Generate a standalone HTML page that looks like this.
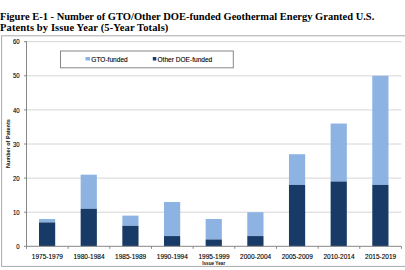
<!DOCTYPE html>
<html><head><meta charset="utf-8"><style>
html,body{margin:0;padding:0;background:#fff;width:405px;height:270px;overflow:hidden}
.t{position:absolute;left:0;top:10.6px;font-family:"Liberation Serif",serif;font-weight:bold;font-size:10.5px;line-height:11.5px;color:#000;white-space:nowrap}
svg{position:absolute;left:0;top:0}
.ax{font-family:"Liberation Sans",sans-serif;font-size:7px;fill:#000;stroke:#000;stroke-width:0.12px}
.cat{font-family:"Liberation Sans",sans-serif;font-size:7px;fill:#000;stroke:#000;stroke-width:0.12px}
.lg{font-family:"Liberation Sans",sans-serif;font-size:7px;fill:#000;stroke:#000;stroke-width:0.12px}
.ttl{font-family:"Liberation Sans",sans-serif;font-size:4.6px;font-weight:bold;fill:#111}
</style></head><body>
<div class="t">Figure E-1 - Number of GTO/Other DOE-funded Geothermal Energy Granted U.S.<br><span style="letter-spacing:0.12px">Patents by Issue Year (5-Year Totals)</span></div>
<svg width="405" height="270" viewBox="0 0 405 270" xmlns="http://www.w3.org/2000/svg">
<rect x="1.6" y="35.8" width="410" height="230.6" fill="none" stroke="#ababab" stroke-width="1"/>
<line x1="26.5" y1="212.20" x2="401.5" y2="212.20" stroke="#d6d6d6" stroke-width="1"/>
<line x1="26.5" y1="178.10" x2="401.5" y2="178.10" stroke="#d6d6d6" stroke-width="1"/>
<line x1="26.5" y1="144.00" x2="401.5" y2="144.00" stroke="#d6d6d6" stroke-width="1"/>
<line x1="26.5" y1="109.90" x2="401.5" y2="109.90" stroke="#d6d6d6" stroke-width="1"/>
<line x1="26.5" y1="75.80" x2="401.5" y2="75.80" stroke="#d6d6d6" stroke-width="1"/>
<line x1="26.5" y1="41.70" x2="401.5" y2="41.70" stroke="#d6d6d6" stroke-width="1"/>
<rect x="39.00" y="219.02" width="16.20" height="3.41" fill="#8db3e2"/>
<rect x="39.00" y="222.43" width="16.20" height="23.87" fill="#183a66"/>
<rect x="80.66" y="174.69" width="16.20" height="34.10" fill="#8db3e2"/>
<rect x="80.66" y="208.79" width="16.20" height="37.51" fill="#183a66"/>
<rect x="122.32" y="215.61" width="16.20" height="10.23" fill="#8db3e2"/>
<rect x="122.32" y="225.84" width="16.20" height="20.46" fill="#183a66"/>
<rect x="163.98" y="201.97" width="16.20" height="34.10" fill="#8db3e2"/>
<rect x="163.98" y="236.07" width="16.20" height="10.23" fill="#183a66"/>
<rect x="205.64" y="219.02" width="16.20" height="20.46" fill="#8db3e2"/>
<rect x="205.64" y="239.48" width="16.20" height="6.82" fill="#183a66"/>
<rect x="247.30" y="212.20" width="16.20" height="23.87" fill="#8db3e2"/>
<rect x="247.30" y="236.07" width="16.20" height="10.23" fill="#183a66"/>
<rect x="288.96" y="154.23" width="16.20" height="30.69" fill="#8db3e2"/>
<rect x="288.96" y="184.92" width="16.20" height="61.38" fill="#183a66"/>
<rect x="330.62" y="123.54" width="16.20" height="57.97" fill="#8db3e2"/>
<rect x="330.62" y="181.51" width="16.20" height="64.79" fill="#183a66"/>
<rect x="372.28" y="75.80" width="16.20" height="109.12" fill="#8db3e2"/>
<rect x="372.28" y="184.92" width="16.20" height="61.38" fill="#183a66"/>
<line x1="26.5" y1="41" x2="26.5" y2="246.3" stroke="#868686" stroke-width="1"/>
<line x1="26.5" y1="246.3" x2="401.5" y2="246.3" stroke="#868686" stroke-width="1"/>
<line x1="24" y1="246.30" x2="26.5" y2="246.30" stroke="#868686" stroke-width="1"/>
<text transform="translate(19.6,248.90) scale(0.85,1)" text-anchor="end" class="ax">0</text>
<line x1="24" y1="212.20" x2="26.5" y2="212.20" stroke="#868686" stroke-width="1"/>
<text transform="translate(19.6,214.80) scale(0.85,1)" text-anchor="end" class="ax">10</text>
<line x1="24" y1="178.10" x2="26.5" y2="178.10" stroke="#868686" stroke-width="1"/>
<text transform="translate(19.6,180.70) scale(0.85,1)" text-anchor="end" class="ax">20</text>
<line x1="24" y1="144.00" x2="26.5" y2="144.00" stroke="#868686" stroke-width="1"/>
<text transform="translate(19.6,146.60) scale(0.85,1)" text-anchor="end" class="ax">30</text>
<line x1="24" y1="109.90" x2="26.5" y2="109.90" stroke="#868686" stroke-width="1"/>
<text transform="translate(19.6,112.50) scale(0.85,1)" text-anchor="end" class="ax">40</text>
<line x1="24" y1="75.80" x2="26.5" y2="75.80" stroke="#868686" stroke-width="1"/>
<text transform="translate(19.6,78.40) scale(0.85,1)" text-anchor="end" class="ax">50</text>
<line x1="24" y1="41.70" x2="26.5" y2="41.70" stroke="#868686" stroke-width="1"/>
<text transform="translate(19.6,44.30) scale(0.85,1)" text-anchor="end" class="ax">60</text>
<line x1="26.50" y1="246.3" x2="26.50" y2="248.8" stroke="#868686" stroke-width="1"/>
<line x1="68.16" y1="246.3" x2="68.16" y2="248.8" stroke="#868686" stroke-width="1"/>
<line x1="109.82" y1="246.3" x2="109.82" y2="248.8" stroke="#868686" stroke-width="1"/>
<line x1="151.48" y1="246.3" x2="151.48" y2="248.8" stroke="#868686" stroke-width="1"/>
<line x1="193.14" y1="246.3" x2="193.14" y2="248.8" stroke="#868686" stroke-width="1"/>
<line x1="234.80" y1="246.3" x2="234.80" y2="248.8" stroke="#868686" stroke-width="1"/>
<line x1="276.46" y1="246.3" x2="276.46" y2="248.8" stroke="#868686" stroke-width="1"/>
<line x1="318.12" y1="246.3" x2="318.12" y2="248.8" stroke="#868686" stroke-width="1"/>
<line x1="359.78" y1="246.3" x2="359.78" y2="248.8" stroke="#868686" stroke-width="1"/>
<line x1="401.44" y1="246.3" x2="401.44" y2="248.8" stroke="#868686" stroke-width="1"/>
<text transform="translate(47.33,259) scale(0.93,1)" text-anchor="middle" class="cat">1975-1979</text>
<text transform="translate(88.99,259) scale(0.93,1)" text-anchor="middle" class="cat">1980-1984</text>
<text transform="translate(130.65,259) scale(0.93,1)" text-anchor="middle" class="cat">1985-1989</text>
<text transform="translate(172.31,259) scale(0.93,1)" text-anchor="middle" class="cat">1990-1994</text>
<text transform="translate(213.97,259) scale(0.93,1)" text-anchor="middle" class="cat">1995-1999</text>
<text transform="translate(255.63,259) scale(0.93,1)" text-anchor="middle" class="cat">2000-2004</text>
<text transform="translate(297.29,259) scale(0.93,1)" text-anchor="middle" class="cat">2005-2009</text>
<text transform="translate(338.95,259) scale(0.93,1)" text-anchor="middle" class="cat">2010-2014</text>
<text transform="translate(380.61,259) scale(0.93,1)" text-anchor="middle" class="cat">2015-2019</text>
<rect x="60.5" y="51" width="172.8" height="16.8" fill="#fff" stroke="#868686" stroke-width="1"/>
<rect x="85.5" y="57" width="4.5" height="3.5" fill="#8db3e2"/>
<text transform="translate(91.3,62.2) scale(0.94,1)" class="lg">GTO-funded</text>
<rect x="152.8" y="57" width="3.5" height="3.5" fill="#183a66"/>
<text transform="translate(157.5,62.2) scale(0.94,1)" class="lg">Other DOE-funded</text>
<text transform="translate(213.7,264.6) scale(1.02,1)" text-anchor="middle" class="ttl">Issue Year</text>
<text transform="translate(9.8,143.6) rotate(-90) scale(1.2,1.35)" text-anchor="middle" class="ttl">Number of Patents</text>
</svg>
</body></html>
